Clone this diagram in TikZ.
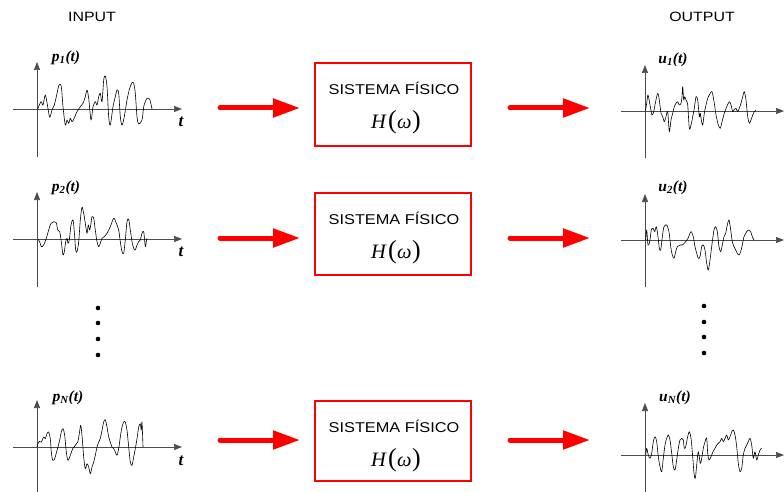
\documentclass[tikz,border=0pt]{standalone}
\usepackage{fontspec}
\usepackage{graphicx}
\setmainfont{Liberation Serif}
\newfontfamily\arialf{Liberation Sans}
\usetikzlibrary{arrows.meta}
\newcommand\Hw{{\fontsize{20.5}{22}\selectfont\itshape H\kern2pt{\fontsize{26}{26}\selectfont\upshape(}\kern0.5pt ω\kern0.5pt{\fontsize{26}{26}\selectfont\upshape)}}}
\newcommand\sysname{\scalebox{1.15}[1]{SISTEMA FÍSICO}}
\begin{document}
\begin{tikzpicture}[x=1pt,y=-1pt,
  axisline/.style={draw=black!70, line width=0.7pt, -{Triangle[length=8pt,width=6pt]}},
  sig/.style={black, line width=0.6pt, line join=round},
  redarrow/.style={draw=red, line width=5pt, line cap=round, -{Triangle[length=27pt,width=18pt]}},
  sysbox/.style={draw=red, line width=1.1pt, minimum width=156pt, inner sep=0pt},
  systext/.style={font=\arialf\fontsize{14.2}{16}\selectfont, inner sep=0pt},
  htext/.style={inner sep=0pt},
  lbl/.style={font=\bfseries\itshape\fontsize{15.5}{17}\selectfont, inner sep=0pt},
  tlbl/.style={font=\bfseries\itshape\fontsize{17}{18}\selectfont, inner sep=0pt},
  head/.style={font=\arialf\fontsize{13.5}{15}\selectfont, inner sep=0pt},
  dotm/.style={circle, fill=black, minimum size=4.6pt, inner sep=0pt}
]
\useasboundingbox (0,0) rectangle (784,492);

% headings
\node[head] (inhead) at (92,17) {\scalebox{1.18}[1]{INPUT}};
\node[head] (outhead) at (702,17) {\scalebox{1.18}[1]{OUTPUT}};

% ---------------- input axes ----------------
\coordinate (ih1a) at (13,109);  \coordinate (ih1b) at (182,109);
\coordinate (iv1a) at (37,157);  \coordinate (iv1b) at (37,62);
\coordinate (ih2a) at (13,239);  \coordinate (ih2b) at (182,239);
\coordinate (iv2a) at (37,287);  \coordinate (iv2b) at (37,192);
\coordinate (ih3a) at (13,447);  \coordinate (ih3b) at (182,447);
\coordinate (iv3a) at (37,496);  \coordinate (iv3b) at (37,400);
\draw[axisline] (ih1a) -- (ih1b);  \draw[axisline] (iv1a) -- (iv1b);
\draw[axisline] (ih2a) -- (ih2b);  \draw[axisline] (iv2a) -- (iv2b);
\draw[axisline] (ih3a) -- (ih3b);  \draw[axisline] (iv3a) -- (iv3b);

% ---------------- output axes ----------------
\coordinate (oh1a) at (621,111); \coordinate (oh1b) at (784,111);
\coordinate (ov1a) at (645,158); \coordinate (ov1b) at (645,65);
\coordinate (oh2a) at (621,240); \coordinate (oh2b) at (784,240);
\coordinate (ov2a) at (645,287); \coordinate (ov2b) at (645,194);
\coordinate (oh3a) at (621,455); \coordinate (oh3b) at (784,455);
\coordinate (ov3a) at (645,496); \coordinate (ov3b) at (645,403);
\draw[axisline] (oh1a) -- (oh1b);  \draw[axisline] (ov1a) -- (ov1b);
\draw[axisline] (oh2a) -- (oh2b);  \draw[axisline] (ov2a) -- (ov2b);
\draw[axisline] (oh3a) -- (oh3b);  \draw[axisline] (ov3a) -- (ov3b);

% ---------------- labels ----------------
\node[lbl] (p1) at (66,58) {p\textsubscript{1}(t)};
\node[lbl] (p2) at (66,188) {p\textsubscript{2}(t)};
\node[lbl] (pN) at (68,398) {p\textsubscript{N}(t)};
\node[lbl] (u1) at (673,60) {u\textsubscript{1}(t)};
\node[lbl] (u2) at (673,188) {u\textsubscript{2}(t)};
\node[lbl] (uN) at (675,398) {u\textsubscript{N}(t)};
\node[tlbl] (t1) at (181,122) {t};
\node[tlbl] (t2) at (181,252) {t};
\node[tlbl] (t3) at (181,461) {t};

% ---------------- input signals ----------------
\begin{scope}[shift={(37,109)},yscale=-1]
\draw[sig] plot[smooth,tension=0.5] coordinates {(0.7,0) (4,7.3) (6,4) (8.3,14) (10.7,2.3) (12.7,-8.3) (15,-1) (17.3,4) (19.3,12.3) (22,24) (24.3,22.3) (26,2.3) (28.3,-16) (30,-11) (31.7,-14.3) (33.3,-9.3) (35,-12.7) (36.7,-10.3) (40,-2.7) (43.3,2.3) (46,5.7) (48.3,12.3) (50,19) (51.7,10.7) (54,-11) (56,2.3) (58.3,7.3) (60,4) (61.7,12.3) (63.3,15.7) (65,7.3) (66.7,29) (68.3,33) (70,22.3) (71.7,-7.7) (73.3,-16) (76,2.3) (78.3,12.3) (80,19) (81.7,15.7) (83.3,-7.7) (85,-16) (87.3,-7.7) (90,9) (92.7,20.7) (95,26.3) (96.7,25.7) (98.3,15.7) (100,-7.7) (101.7,-15) (105,-11) (106.7,2.3) (108.3,7.3) (110,10.7) (112.7,9.7) (115,0)};
\end{scope}
\begin{scope}[shift={(37,239)},yscale=-1]
\draw[sig] plot[smooth,tension=0.5] coordinates {(0.7,0) (2.7,-2.7) (4.3,-7.7) (6.7,-6) (9.3,0.7) (11.7,9) (14,15.7) (16.7,17.3) (19.3,16.3) (20.7,9) (22.7,7.3) (24.3,-2.7) (26,-16) (27.3,-12.7) (28.7,-2.7) (30,0.7) (31,-4.3) (32.3,-1) (34,14) (36,19) (37.3,7.3) (38.7,-11) (40,-12.7) (41.7,-2.7) (43.3,19) (45,31.7) (46.7,25.7) (48.3,15.7) (50,5.7) (51.3,14) (52.7,9) (54,15.7) (55,22.3) (56.7,20.7) (58.3,9) (60,-2.7) (61.7,-7.7) (63.3,-4.3) (65,0.7) (67.3,2.3) (70,5.7) (73.3,12.3) (76.7,20.7) (79.3,15.7) (81.7,9) (83.3,-2.7) (85,-12.7) (86.7,-14.3) (88.3,-1) (90,17.3) (91.7,19.7) (93.3,9) (95,-2.7) (96.7,-9.3) (98.3,-11) (100,-6) (101.7,-2.7) (103.3,-1) (105,5.7) (106.7,7.3) (108.3,-7.7) (109.3,-2.7) (110,0.7)};
\end{scope}
\begin{scope}[shift={(37,447)},yscale=-1]
\draw[sig] plot[smooth,tension=0.5] coordinates {(0,0) (1,3.3) (2.3,5.7) (4.3,5) (6.7,10) (8.3,8.3) (10,13.3) (11.7,15) (13.3,8.3) (14.3,-5) (15.7,-13.3) (17.7,-11.7) (20,-3.3) (22.3,5) (24.3,15) (26,18.3) (27.7,11.7) (29.3,-5) (31,-13.3) (33.3,-8.3) (35.7,-1.7) (38.3,1.7) (40.7,5) (42.3,13.3) (43.7,21.7) (45,11.7) (46.7,-10) (48.3,-21.7) (50,-16.7) (51.7,-20) (53.3,-26.7) (55,-20) (56.7,-15) (58.3,-8.3) (60,0) (61.7,5) (63.3,8.3) (65,16.7) (66.7,25) (68.3,27.3) (70,20) (71.7,10) (73.3,5) (75,0) (76.7,-1.7) (78.3,-5) (80,-8.3) (81.7,-1.7) (83.3,10) (85,20) (86.7,25) (88.3,25) (90,16.7) (91.7,0) (93.3,-15) (95,-18.3) (96.7,-10) (98.3,-1.7) (100,8.3) (101.7,20) (103.3,23.3) (104.3,16.7) (105,25) (106,0)};
\end{scope}

% ---------------- output signals ----------------
\begin{scope}[shift={(645,111)},yscale=-1]
\draw[sig] plot[smooth,tension=0.5] coordinates {(0.3,0) (1.7,7.7) (3,16) (5,6) (7,-4) (8.7,-0.7) (10.3,7.7) (12.7,17.7) (14.3,11) (16,-2.3) (17.7,-5.7) (19.3,-10.7) (21,-5.7) (22.7,-0.7) (24.3,-20.7) (26,-9) (27.7,-2.3) (29.3,4.3) (31,7.7) (32.7,9.3) (34.3,6) (36,7.7) (37,14.3) (37.7,24.3) (38.7,11) (39.7,14.3) (41,11) (42.7,6) (44.3,-17.3) (46,-14) (47.7,-5.7) (49.3,2.7) (51,14.3) (52.7,11) (54.3,-5.7) (55.3,-2.3) (56.3,-9) (57.7,-14) (59.3,-2.3) (61,6) (62.7,12.7) (64.3,16) (67,19.3) (69.3,7.7) (71,-4) (73.3,-14) (75.3,-17.3) (77,-10.7) (79.3,-2.3) (81.7,4.3) (84.3,9.3) (86,6) (87.7,-0.7) (89.3,1.7) (91,2.7) (92.7,-0.7) (94.3,2.7) (96,7.7) (97.7,14.3) (99.3,19.3) (101,11) (102.7,-5.7) (104.3,-12.3) (106,-9) (107.7,-4) (109.3,-0.7) (111,1)};
\end{scope}
\begin{scope}[shift={(645,240)},yscale=-1]
\draw[sig] plot[smooth,tension=0.5] coordinates {(0.7,0) (1.7,10) (3,-5) (4.7,-1.7) (6.3,10) (8,11.7) (9.7,8.3) (11.3,13.3) (13,3.3) (14.3,-8.3) (15.7,-10) (17.3,3.3) (19,13.3) (21.7,15) (24,8.3) (25.7,-6.7) (27.3,-15) (29,-18.3) (30.7,-11.7) (32.3,-6.7) (35,-5) (37.3,-5) (40.7,-1.7) (43,1.7) (45,6.7) (46.3,8.3) (48.3,3.3) (50,-6.7) (51.7,-13.3) (53.3,-18.3) (55,-16.7) (56.7,-6.7) (58.3,-5) (60,-10) (61.7,-23.3) (63.3,-30) (65,-20) (67.3,-1.7) (69,10) (70.7,13.3) (72.3,8.3) (74,-6.7) (75.7,-11.7) (77.3,-5) (79,3.3) (80.7,6.7) (82.3,15) (84,20) (85.7,10) (87.3,-1.7) (89,-6.7) (90.7,-10) (92.3,-13.3) (94,-15) (95.7,-11.7) (97.3,-5) (99,3.3) (101.7,8.3) (104,10) (105.7,8.3) (107.3,3.3) (109,0)};
\end{scope}
\begin{scope}[shift={(645,455)},yscale=-1]
\draw[sig] plot[smooth,tension=0.5] coordinates {(0.7,0) (1.7,6.7) (3.3,0) (5,-3.3) (6.7,1.7) (8.3,13.3) (10,18.3) (11.7,13.3) (13.3,-1.7) (15,-11.7) (16.7,-16.7) (18.3,-3.3) (20,10) (21.7,16.7) (23.3,20) (25,15) (26.7,1.7) (28.3,-11.7) (30,-15) (31.7,-5) (33.3,6.7) (35,15) (36.7,16.7) (38.3,15) (39.3,6.7) (40.7,8.3) (42.7,18.3) (44.3,23.3) (46,16.7) (47.7,-1.7) (49,-18.3) (50.3,-23.3) (51.7,-10) (53.3,3.3) (55.3,-8.3) (56.7,-3.3) (58.3,6.7) (60,13.3) (61.7,16.7) (62.7,1.7) (64,-5) (66,-1.7) (68,3.3) (70,6.7) (71.7,10) (73.3,11.7) (75,13.3) (76.7,16.7) (78.3,13.3) (80,16.7) (81.7,20) (83.3,15) (85,18.3) (86.7,23.3) (88.3,25) (90,20) (91.7,8.3) (93.3,-8.3) (95,-16.7) (96.7,-13.3) (98.3,0) (100,6.7) (101.7,10) (103.3,13.3) (105,16.7) (106.7,10) (108.3,-3.3) (110,3.3) (111.7,-5) (113.3,0) (115,5) (116.7,6.7)};
\end{scope}

% ---------------- system boxes ----------------
\node[sysbox, minimum height=83pt] (box1) at (393,104.5) {};
\node[sysbox, minimum height=82pt] (box2) at (393,234) {};
\node[sysbox, minimum height=80pt] (box3) at (393,441) {};
\node[systext] (s1) at (394,88) {\sysname};
\node[systext] (s2) at (394,218) {\sysname};
\node[systext] (s3) at (394,426) {\sysname};
\node[htext] (h1) at (396,122) {\Hw};
\node[htext] (h2) at (396,252) {\Hw};
\node[htext] (h3) at (396,460) {\Hw};

% ---------------- red arrows ----------------
\coordinate (ra1) at (220,108); \coordinate (rb1) at (300,108);
\coordinate (rc1) at (510,108); \coordinate (rd1) at (590,108);
\coordinate (ra2) at (220,238); \coordinate (rb2) at (300,238);
\coordinate (rc2) at (510,238); \coordinate (rd2) at (590,238);
\coordinate (ra3) at (220,440); \coordinate (rb3) at (300,440);
\coordinate (rc3) at (510,440); \coordinate (rd3) at (590,440);
\draw[redarrow] (ra1) -- (rb1); \draw[redarrow] (rc1) -- (rd1);
\draw[redarrow] (ra2) -- (rb2); \draw[redarrow] (rc2) -- (rd2);
\draw[redarrow] (ra3) -- (rb3); \draw[redarrow] (rc3) -- (rd3);

% ---------------- dots ----------------
\node[dotm] (di1) at (98,308) {};
\node[dotm] (di2) at (98,323) {};
\node[dotm] (di3) at (98,339) {};
\node[dotm] (di4) at (98,355) {};
\node[dotm] (do1) at (704,306) {};
\node[dotm] (do2) at (704,322) {};
\node[dotm] (do3) at (704,337) {};
\node[dotm] (do4) at (704,353) {};
\end{tikzpicture}
\end{document}
